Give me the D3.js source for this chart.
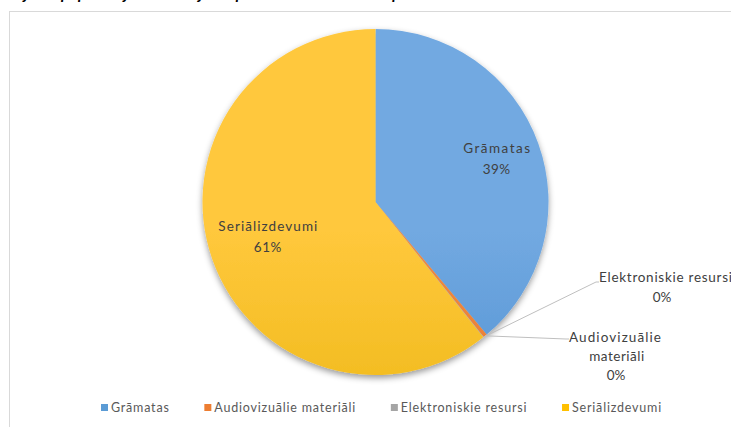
<!DOCTYPE html>
<html>
<head>
<meta charset="utf-8">
<script src="https://cdn.jsdelivr.net/npm/d3@7"></script>
<style>
  body { margin: 0; background: #fff; }
  svg { display: block; }
</style>
</head>
<body>
<div id="wrapper"></div>
<script>
// Chart data
const categories = ["Grāmatas", "Audiovizuālie materiāli", "Elektroniskie resursi", "Seriālizdevumi"];
const shares = [38.9, 0.35, 0.05, 60.7];
const pctLabels = ["39%", "0%", "0%", "61%"];
const titleText = "Krājuma papildinājums sadalījumā pa dokumentu veidiem pēc to skaita bibliotēkās";

const colorsTop = ["#72a9e1", "#f08a42", "#b0b0b0", "#ffc83c"];
const colorsBottom = ["#3a81c8", "#e0701e", "#9a9a9a", "#e3ae00"];
const legendColors = ["#5b9bd5", "#ed7d31", "#a5a5a5", "#ffc000"];

const W = 731, H = 427;
const cx = 375.5, cy = 202, r = 173;

const svg = d3.select("#wrapper")
  .append("svg")
  .attr("width", W)
  .attr("height", H)
  .style("font-family", "Lato, 'Open Sans', sans-serif");

const defs = svg.append("defs");

// soft shadow under the pie
const shadow = defs.append("filter")
  .attr("id", "shadow")
  .attr("x", "-20%").attr("y", "-20%")
  .attr("width", "140%").attr("height", "140%");
shadow.append("feDropShadow")
  .attr("dx", 0).attr("dy", 3)
  .attr("stdDeviation", 3)
  .attr("flood-color", "#000")
  .attr("flood-opacity", 0.4);

// vertical gradient per slice
categories.forEach((c, i) => {
  const g = defs.append("linearGradient")
    .attr("id", "grad" + i)
    .attr("gradientUnits", "userSpaceOnUse")
    .attr("x1", 0).attr("y1", cy - r)
    .attr("x2", 0).attr("y2", cy + r);
  g.append("stop").attr("offset", "0%").attr("stop-color", colorsTop[i]);
  g.append("stop").attr("offset", "100%").attr("stop-color", colorsBottom[i]);
});

// title, cut off at the top of the picture like in the source
svg.append("text")
  .attr("x", 0)
  .attr("y", -1)
  .style("font-style", "italic")
  .style("font-weight", "bold")
  .style("font-size", "16px")
  .style("fill", "#000")
  .text(titleText);

// chart frame
svg.append("rect")
  .attr("x", 9.5).attr("y", 11.5)
  .attr("width", W + 20).attr("height", H + 20)
  .attr("fill", "#fff")
  .attr("stroke", "#d9d9d9")
  .attr("stroke-width", 1);

const pie = d3.pie().sort(null).value(d => d);
const arcs = pie(shares);
const arc = d3.arc().innerRadius(0).outerRadius(r);

const g = svg.append("g").attr("transform", `translate(${cx},${cy})`);

g.append("g")
  .attr("filter", "url(#shadow)")
  .selectAll("path")
  .data(arcs)
  .enter()
  .append("path")
    .attr("d", arc)
    .attr("fill", (d, i) => `url(#grad${i})`)
    .attr("stroke", "none");

// inside labels for the big slices
const labelArc = d3.arc().innerRadius(r * 0.69).outerRadius(r * 0.69);
const labelShift = { 0: [9, -8], 3: [5, -10] };
const labelWidth = { 0: 67, 3: 99 };
[0, 3].forEach(i => {
  const [lx, ly] = labelArc.centroid(arcs[i]);
  const [dx, dy] = labelShift[i];
  const t = g.append("text")
    .attr("text-anchor", "middle")
    .style("font-size", "13.5px")
    .style("fill", "#404040");
  t.append("tspan").attr("x", lx + dx).attr("y", ly + dy)
    .attr("textLength", labelWidth[i]).attr("lengthAdjust", "spacing")
    .text(categories[i]);
  t.append("tspan").attr("x", lx + dx).attr("y", ly + dy + 21)
    .style("letter-spacing", "0.5px")
    .text(pctLabels[i]);
});

// outside labels with leader lines for the tiny slices
const outerPt = d => {
  const a = (d.startAngle + d.endAngle) / 2;
  return [Math.sin(a) * r, -Math.cos(a) * r];
};

// Elektroniskie resursi
{
  const [sx, sy] = outerPt(arcs[2]);
  const ex = 596 - cx, ey = 282 - cy;
  g.append("polyline")
    .attr("points", [[sx, sy], [ex, ey], [ex + 3, ey]].map(p => p.join(",")).join(" "))
    .attr("fill", "none")
    .attr("stroke", "#bfbfbf")
    .attr("stroke-width", 1);
  const t = svg.append("text")
    .style("font-size", "13.5px")
    .style("fill", "#404040");
  t.append("tspan").attr("x", 599).attr("y", 282)
    .attr("textLength", 133).attr("lengthAdjust", "spacing")
    .text("Elektroniskie resursi");
  t.append("tspan").attr("x", 662).attr("y", 302)
    .attr("text-anchor", "middle").text(pctLabels[2]);
}

// Audiovizuālie materiāli
{
  const [sx, sy] = outerPt(arcs[1]);
  const ex = 566 - cx, ey = 339 - cy;
  g.append("polyline")
    .attr("points", [[sx, sy], [ex, ey], [ex + 3, ey]].map(p => p.join(",")).join(" "))
    .attr("fill", "none")
    .attr("stroke", "#bfbfbf")
    .attr("stroke-width", 1);
  const t = svg.append("text")
    .attr("text-anchor", "middle")
    .style("font-size", "13.5px")
    .style("fill", "#404040");
  t.append("tspan").attr("x", 615).attr("y", 342)
    .attr("textLength", 92).attr("lengthAdjust", "spacing")
    .text("Audiovizuālie");
  t.append("tspan").attr("x", 617).attr("y", 361)
    .style("letter-spacing", "0.5px").text("materiāli");
  t.append("tspan").attr("x", 616).attr("y", 380).text(pctLabels[1]);
}

// legend: laid out from measured text widths, spread over the same span
const legendLeft = 101, legendRight = 662;
const legend = svg.append("g");
const items = categories.map((c, i) => {
  const it = legend.append("g");
  it.append("rect")
    .attr("x", 0).attr("y", 404)
    .attr("width", 7).attr("height", 7)
    .attr("fill", legendColors[i]);
  const txt = it.append("text")
    .attr("x", 10).attr("y", 412)
    .style("font-size", "12.5px")
    .style("letter-spacing", "0.8px")
    .style("fill", "#595959")
    .text(c);
  return { g: it, w: 10 + txt.node().getComputedTextLength() };
});
const totalW = d3.sum(items, d => d.w);
const gap = (legendRight - legendLeft - totalW) / (items.length - 1);
let xPos = legendLeft;
items.forEach(it => {
  it.g.attr("transform", `translate(${xPos},0)`);
  xPos += it.w + gap;
});
</script>
</body>
</html>
